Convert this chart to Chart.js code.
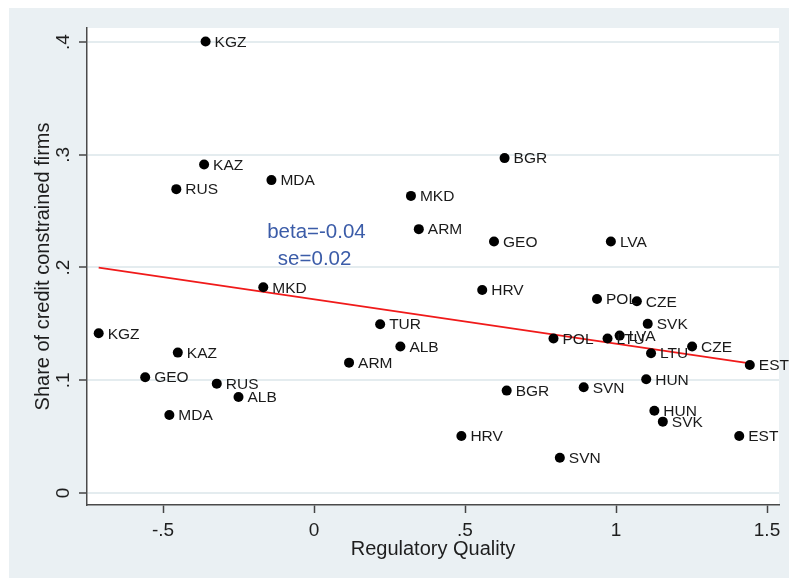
<!DOCTYPE html>
<html>
<head>
<meta charset="utf-8">
<title>Credit constraints vs regulatory quality</title>
<script src="https://cdn.jsdelivr.net/npm/chart.js@4.4.1/dist/chart.umd.min.js"></script>
<style>
    html, body { margin: 0; padding: 0; background: #ffffff; }
    #wrap { position: relative; width: 789px; height: 578px; }
</style>
</head>
<body>
<div id="wrap"><canvas id="scatterChart"></canvas></div>
<script>
// Country codes, one per point (each country appears twice: two survey rounds)
const countries = ['KGZ', 'KAZ', 'RUS', 'MDA', 'MKD', 'BGR', 'ARM', 'GEO', 'LVA', 'MKD',
    'HRV', 'POL', 'CZE', 'KGZ', 'TUR', 'SVK', 'POL', 'LTU', 'LVA', 'ALB',
    'CZE', 'KAZ', 'LTU', 'ARM', 'EST', 'GEO', 'HUN', 'RUS', 'BGR', 'SVN',
    'ALB', 'MDA', 'HUN', 'SVK', 'HRV', 'EST', 'SVN'];

// Regulatory Quality (x)
const regQuality = [-0.359, -0.364, -0.456, -0.141, 0.321, 0.631, 0.347, 0.596, 0.983, -0.168,
    0.557, 0.937, 1.069, -0.713, 0.219, 1.105, 0.793, 0.972, 1.012, 0.286,
    1.252, -0.451, 1.116, 0.116, 1.443, -0.559, 1.100, -0.322, 0.638, 0.893,
    -0.250, -0.479, 1.127, 1.155, 0.488, 1.408, 0.814];

// Share of credit constrained firms (y)
const creditShare = [0.4005, 0.2913, 0.2695, 0.2775, 0.2635, 0.297, 0.234, 0.223, 0.223, 0.1825,
    0.180, 0.172, 0.170, 0.1417, 0.1497, 0.150, 0.137, 0.137, 0.1396, 0.130,
    0.130, 0.1245, 0.124, 0.1156, 0.1136, 0.1027, 0.1009, 0.097, 0.0908, 0.0938,
    0.0852, 0.0692, 0.073, 0.0633, 0.0506, 0.0506, 0.0313];

// Linear fit end points
const fitX = [-0.713, 1.443];
const fitY = [0.1998, 0.1150];

// Axis ticks
const xTickValues = [-0.5, 0, 0.5, 1, 1.5];
const xTickLabels = ['-.5', '0', '.5', '1', '1.5'];
const yTickValues = [0, 0.1, 0.2, 0.3, 0.4];
const yTickLabels = ['0', '.1', '.2', '.3', '.4'];

// Regression annotation
const annotationLines = ['beta=-0.04', 'se=0.02'];

const FONT = "'Liberation Sans', Arial, sans-serif";

// Outer light panel + white plot region
const backgroundPlugin = {
    id: 'stataBackground',
    beforeDraw(chart) {
        const { ctx, chartArea, width, height } = chart;
        ctx.save();
        ctx.fillStyle = '#ffffff';
        ctx.fillRect(0, 0, width, height);
        ctx.fillStyle = '#eaf0f3';
        ctx.fillRect(9, 8, width - 9, height - 8);
        ctx.fillStyle = '#ffffff';
        ctx.fillRect(chartArea.left, chartArea.top, chartArea.right - chartArea.left, chartArea.bottom - chartArea.top);
        ctx.restore();
    }
};

// Vertical (rotated) y tick labels, country labels and the beta / se text
const labelsPlugin = {
    id: 'stataLabels',
    afterDraw(chart) {
        const ctx = chart.ctx;
        const yScale = chart.scales.y;
        const xScale = chart.scales.x;

        ctx.save();
        ctx.fillStyle = '#1e1e1e';
        ctx.font = '19px ' + FONT;
        ctx.textAlign = 'center';
        ctx.textBaseline = 'middle';
        yTickValues.forEach((v, i) => {
            const py = yScale.getPixelForValue(v);
            ctx.save();
            ctx.translate(64, py);
            ctx.rotate(-Math.PI / 2);
            ctx.fillText(yTickLabels[i], 0, 0);
            ctx.restore();
        });
        ctx.restore();

        // country codes next to each dot
        const meta = chart.getDatasetMeta(0);
        ctx.save();
        ctx.fillStyle = '#1a1a1a';
        ctx.font = '15.5px ' + FONT;
        ctx.textAlign = 'left';
        ctx.textBaseline = 'middle';
        meta.data.forEach((pt, i) => {
            ctx.fillText(countries[i], pt.x + 9, pt.y + 1);
        });
        ctx.restore();

        // beta / se
        ctx.save();
        ctx.fillStyle = '#3b5ca8';
        ctx.font = '20.5px ' + FONT;
        ctx.textAlign = 'center';
        ctx.textBaseline = 'middle';
        ctx.fillText(annotationLines[0], xScale.getPixelForValue(0.008), yScale.getPixelForValue(0.2316));
        ctx.fillText(annotationLines[1], xScale.getPixelForValue(0.002), yScale.getPixelForValue(0.2072));
        ctx.restore();
    }
};

const points = regQuality.map((x, i) => ({ x: x, y: creditShare[i] }));
const fitLine = fitX.map((x, i) => ({ x: x, y: fitY[i] }));

new Chart(document.getElementById('scatterChart').getContext('2d'), {
    type: 'scatter',
    data: {
        datasets: [{
            label: 'Share of credit constrained firms',
            data: points,
            pointRadius: 5,
            pointHoverRadius: 5,
            pointBackgroundColor: '#000000',
            pointBorderColor: '#000000',
            pointBorderWidth: 0
        }, {
            type: 'line',
            label: 'Fitted values',
            data: fitLine,
            borderColor: '#f01a1a',
            borderWidth: 1.8,
            pointRadius: 0,
            fill: false,
            tension: 0
        }]
    },
    options: {
        responsive: true,
        maintainAspectRatio: false,
        animation: false,
        devicePixelRatio: 1,
        layout: {
            padding: { left: 0, top: 28, right: 10, bottom: 0 }
        },
        plugins: {
            legend: { display: false },
            tooltip: { enabled: false }
        },
        scales: {
            x: {
                type: 'linear',
                min: -0.7517,
                max: 1.5397,
                afterBuildTicks: function(scale) {
                    scale.ticks = xTickValues.map(v => ({ value: v }));
                },
                afterFit: function(scale) {
                    scale.height = 73;
                },
                ticks: {
                    autoSkip: false,
                    maxRotation: 0,
                    padding: 6,
                    color: '#1e1e1e',
                    font: { family: FONT, size: 19 },
                    callback: function(value) {
                        const i = xTickValues.indexOf(value);
                        return i >= 0 ? xTickLabels[i] : '';
                    }
                },
                grid: {
                    drawOnChartArea: false,
                    drawTicks: true,
                    tickLength: 8,
                    tickColor: '#444444',
                    tickWidth: 1.5
                },
                border: { display: true, color: '#4a4a4a', width: 1.5 },
                title: {
                    display: true,
                    text: 'Regulatory Quality',
                    color: '#1e1e1e',
                    font: { family: FONT, size: 20 },
                    padding: { top: 0, bottom: 17 }
                }
            },
            y: {
                type: 'linear',
                min: -0.01064,
                max: 0.4124,
                afterBuildTicks: function(scale) {
                    scale.ticks = yTickValues.map(v => ({ value: v }));
                },
                afterFit: function(scale) {
                    scale.width = 87;
                },
                ticks: {
                    color: 'rgba(0,0,0,0)',
                    font: { family: FONT, size: 19 },
                    callback: function(value) {
                        const i = yTickValues.indexOf(value);
                        return i >= 0 ? yTickLabels[i] : '';
                    }
                },
                grid: {
                    color: '#e4ecef',
                    lineWidth: 2,
                    drawTicks: true,
                    tickLength: 8,
                    tickColor: '#444444',
                    tickWidth: 1.5
                },
                border: { display: true, color: '#4a4a4a', width: 1.5 },
                title: {
                    display: true,
                    text: 'Share of credit constrained firms',
                    color: '#1e1e1e',
                    font: { family: FONT, size: 20 },
                    padding: { top: 31, bottom: 0 }
                }
            }
        }
    },
    plugins: [backgroundPlugin, labelsPlugin]
});
</script>
</body>
</html>
